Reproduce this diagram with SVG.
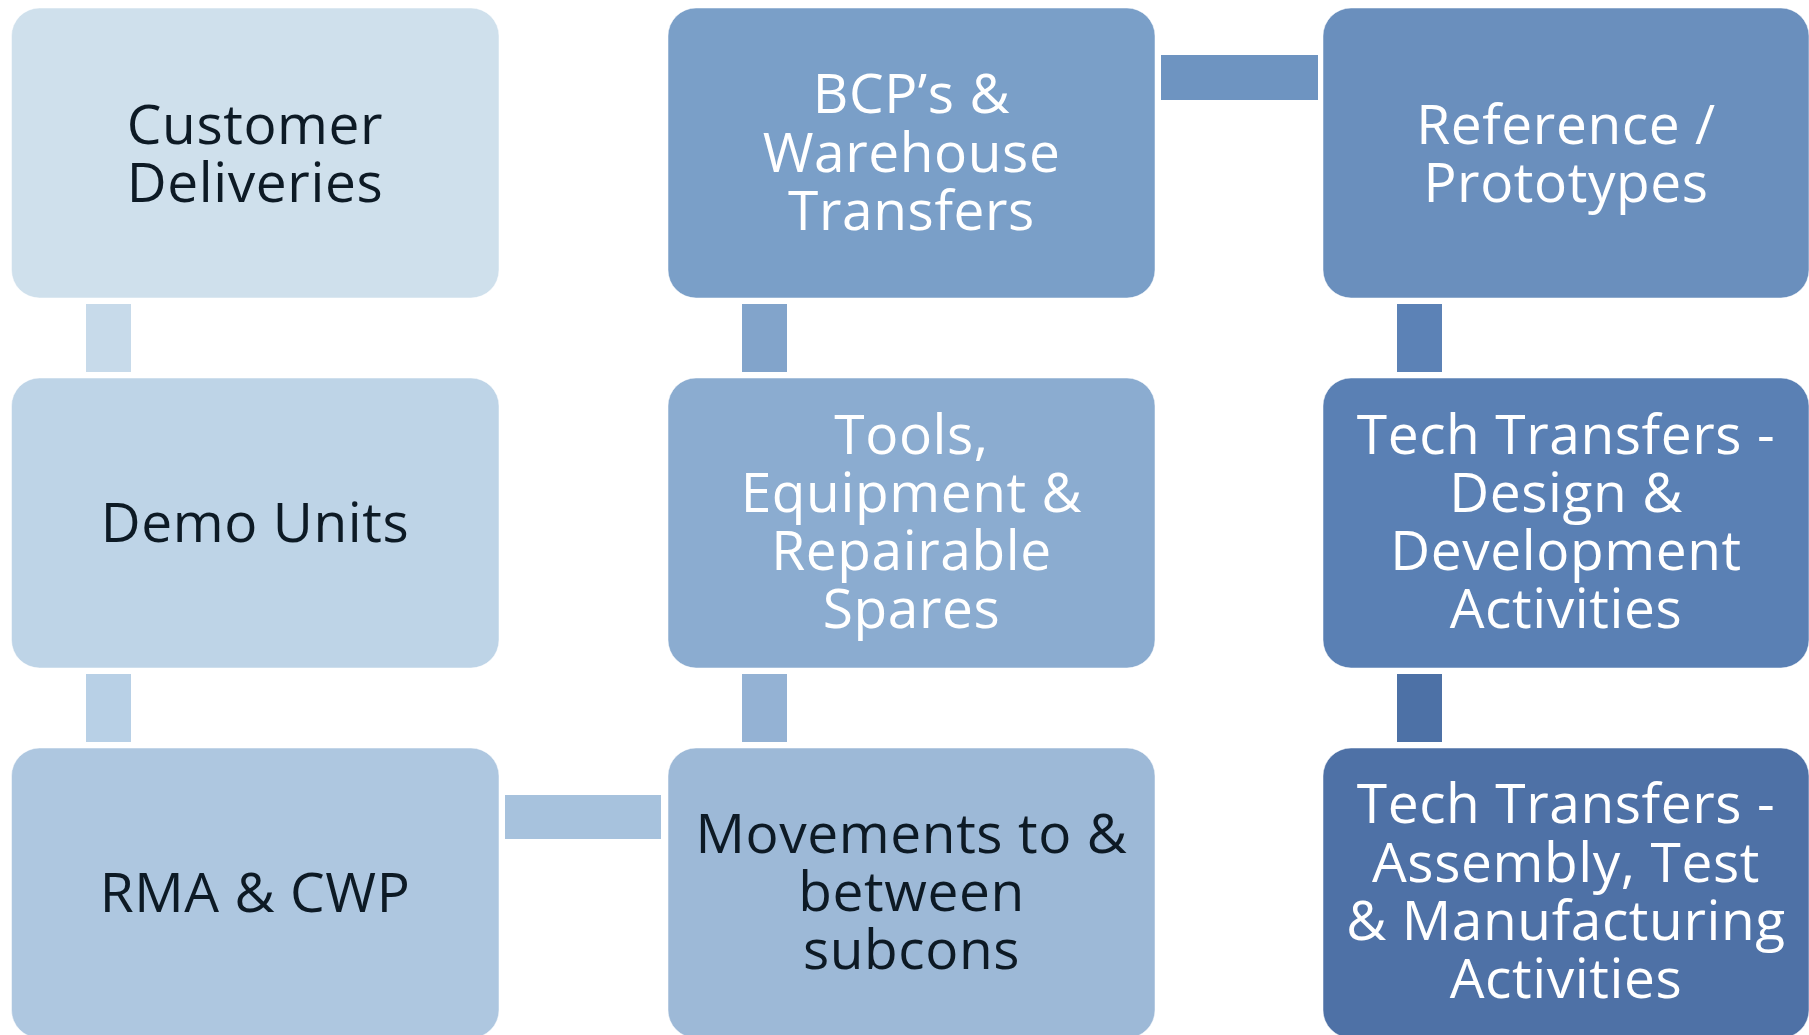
<svg xmlns="http://www.w3.org/2000/svg" width="1809" height="1035" viewBox="0 0 1809 1035">
<style>
.box{stroke:#ffffff;stroke-opacity:0.5;stroke-width:1}
.t{font-family:"Open Sans","Noto Sans",sans-serif;font-size:55px;text-anchor:middle;letter-spacing:0.6px}
.dk{fill:#0d1a25}
.lt{fill:#ffffff}
</style>
<rect width="1809" height="1035" fill="#ffffff"/>
<g id="connectors">
<rect x="86" y="304" width="45" height="68" fill="#c7daea"/>
<rect x="86" y="674" width="45" height="68" fill="#b8d0e6"/>
<rect x="505" y="795" width="156" height="44" fill="#a7c2dd"/>
<rect x="742" y="674" width="45" height="68" fill="#94b2d4"/>
<rect x="742" y="304" width="45" height="68" fill="#82a4cb"/>
<rect x="1161" y="55" width="157" height="45" fill="#6e94c1"/>
<rect x="1397" y="304" width="45" height="68" fill="#5c82b6"/>
<rect x="1397" y="674" width="45" height="68" fill="#4d71a6"/>
</g>
<g id="customer-deliveries">
<rect class="box" x="11.5" y="8" width="487.5" height="290" rx="28" fill="#cfe0ec"/>
<text class="t dk" x="255" y="143.5">Customer</text>
<text class="t dk" x="255" y="201.5">Deliveries</text>
</g>
<g id="demo-units">
<rect class="box" x="11.5" y="378" width="487.5" height="290" rx="28" fill="#bed4e7"/>
<text class="t dk" x="255" y="542">Demo Units</text>
</g>
<g id="rma-cwp">
<rect class="box" x="11.5" y="748" width="487.5" height="290" rx="28" fill="#aec7e0"/>
<text class="t dk" x="255" y="912">RMA &amp; CWP</text>
</g>
<g id="movements">
<rect class="box" x="668" y="748" width="487" height="290" rx="28" fill="#9db9d7"/>
<text class="t dk" x="911.5" y="853">Movements to &amp;</text>
<text class="t dk" x="911.5" y="911">between</text>
<text class="t dk" x="911.5" y="969">subcons</text>
</g>
<g id="tools">
<rect class="box" x="668" y="378" width="487" height="290" rx="28" fill="#8bacd0"/>
<text class="t lt" x="911.5" y="454">Tools,</text>
<text class="t lt" x="911.5" y="512">Equipment &amp;</text>
<text class="t lt" x="911.5" y="570">Repairable</text>
<text class="t lt" x="911.5" y="628">Spares</text>
</g>
<g id="bcp-warehouse">
<rect class="box" x="668" y="8" width="487" height="290" rx="28" fill="#7a9fc8"/>
<text class="t lt" x="911.5" y="113">BCP’s &amp;</text>
<text class="t lt" x="911.5" y="172">Warehouse</text>
<text class="t lt" x="911.5" y="230">Transfers</text>
</g>
<g id="reference-prototypes">
<rect class="box" x="1323" y="8" width="486" height="290" rx="28" fill="#6a8fbd"/>
<text class="t lt" x="1566" y="143.5">Reference /</text>
<text class="t lt" x="1566" y="201.5">Prototypes</text>
</g>
<g id="tech-design">
<rect class="box" x="1323" y="378" width="486" height="290" rx="28" fill="#5a80b4"/>
<text class="t lt" x="1566" y="454">Tech Transfers -</text>
<text class="t lt" x="1566" y="512">Design &amp;</text>
<text class="t lt" x="1566" y="570">Development</text>
<text class="t lt" x="1566" y="628">Activities</text>
</g>
<g id="tech-assembly">
<rect class="box" x="1323" y="748" width="486" height="290" rx="28" fill="#4e71a6"/>
<text class="t lt" x="1566" y="823">Tech Transfers -</text>
<text class="t lt" x="1566" y="882">Assembly, Test</text>
<text class="t lt" x="1566" y="940">&amp; Manufacturing</text>
<text class="t lt" x="1566" y="998">Activities</text>
</g>
</svg>
